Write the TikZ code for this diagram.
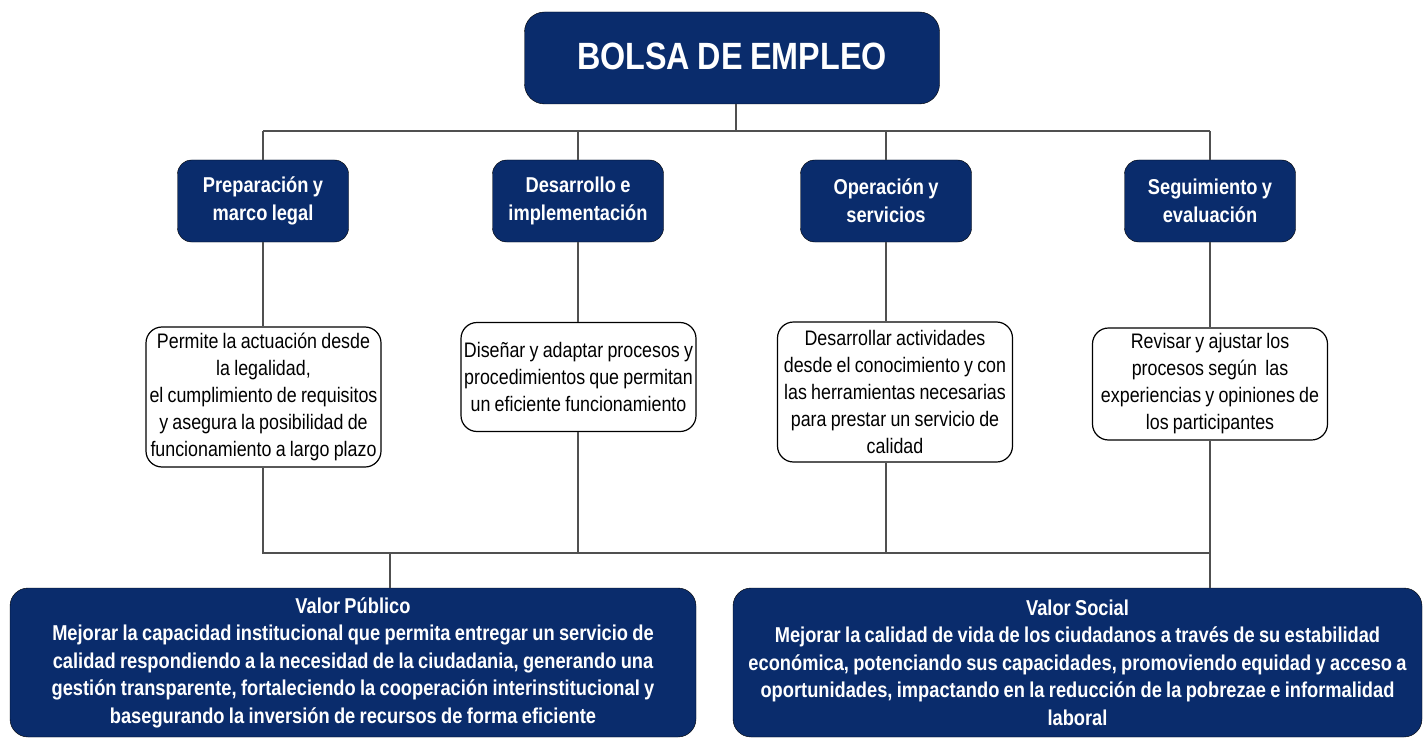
\documentclass[tikz,border=0pt]{standalone}
\usepackage{fontspec}
\setmainfont{Liberation Sans}[FakeStretch=0.85, WordSpace=0.85]
\definecolor{navyfill}{RGB}{10,44,108}
\definecolor{linkgray}{RGB}{80,80,80}

\begin{document}
\begin{tikzpicture}[x=1pt,y=-1pt,
    titlebox/.style={draw=black, fill=navyfill, rounded corners=20pt, text=white,
        font=\bfseries\fontsize{38}{44}\selectfont, minimum width=415pt, minimum height=92pt},
    phasebox/.style={draw=black, fill=navyfill, rounded corners=14pt, text=white, align=center,
        font=\bfseries\fontsize{21.5}{28}\selectfont, minimum width=171pt, minimum height=82pt, inner sep=0pt},
    descbox/.style={draw=black, line width=1.2pt, fill=white, rounded corners=16pt, align=center,
        font=\fontsize{21}{27}\selectfont, minimum width=235pt, inner sep=0pt},
    valuebox/.style={draw=black, fill=navyfill, rounded corners=18pt, text=white, align=center,
        font=\bfseries\fontsize{21.5}{27.5}\selectfont, minimum height=149pt, inner sep=0pt},
    link/.style={draw=linkgray, line width=1.5pt}]
    \useasboundingbox (0,0) rectangle (1426,738);

    % Title
    \node[titlebox, text depth=4pt] (bolsa) at (732,58) {BOLSA DE EMPLEO};

    % Phases
    \node[phasebox] (prep) at (263,201) {Preparación y\\marco legal};
    \node[phasebox] (des) at (578,201) {Desarrollo e\\implementación};
    \node[phasebox] (oper) at (886,201) {Operación y\\servicios};
    \node[phasebox] (seg) at (1210,201) {Seguimiento y\\evaluación};

    % Descriptions
    \node[descbox, minimum height=140pt] (prepTxt) at (263.5,397) {Permite la actuación desde\\la legalidad,\\el cumplimiento de requisitos\\y asegura la posibilidad de\\funcionamiento a largo plazo};
    \node[descbox, minimum height=109pt] (desTxt) at (578.5,377) {Diseñar y adaptar procesos y\\procedimientos que permitan\\un eficiente funcionamiento};
    \node[descbox, minimum height=140pt] (operTxt) at (895,392) {Desarrollar actividades\\desde el conocimiento y con\\las herramientas necesarias\\para prestar un servicio de\\calidad};
    \node[descbox, minimum height=112pt] (segTxt) at (1210,384) {Revisar y ajustar los\\procesos según \ las\\experiencias y opiniones de\\los participantes};

    % Values
    \node[valuebox, minimum width=686pt] (pub) at (353,662.5) {Valor Público\\Mejorar la capacidad institucional que permita entregar un servicio de\\calidad respondiendo a la necesidad de la ciudadania, generando una\\gestión transparente, fortaleciendo la cooperación interinstitucional y\\basegurando la inversión de recursos de forma eficiente};
    \node[valuebox, minimum width=689pt] (soc) at (1077.5,662.5) {Valor Social\\Mejorar la calidad de vida de los ciudadanos a través de su estabilidad\\económica, potenciando sus capacidades, promoviendo equidad y acceso a\\oportunidades, impactando en la reducción de la pobrezae e informalidad\\laboral};

    % Upper connectors
    \coordinate (busTop) at (736,131);
    \draw[link] (bolsa.south -| busTop) -- (busTop);
    \draw[link] (prep.north |- busTop) -- (seg.north |- busTop);
    \foreach \n in {prep,des,oper,seg}
        \draw[link] (\n.north |- busTop) -- (\n.north);
    \foreach \n in {prep,des,oper,seg}
        \draw[link] (\n.south) -- (\n Txt.north -| \n.south);

    % Lower connectors
    \coordinate (pubJoin) at (390,553);
    \draw[link] (prep.south |- prepTxt.south) -- (prep.south |- pubJoin) -- (seg.south |- pubJoin);
    \draw[link] (des.south |- desTxt.south) -- (des.south |- pubJoin);
    \draw[link] (oper.south |- operTxt.south) -- (oper.south |- pubJoin);
    \draw[link] (segTxt.south) -- (soc.north -| segTxt.south);
    \draw[link] (pubJoin) -- (pub.north -| pubJoin);
\end{tikzpicture}
\end{document}
